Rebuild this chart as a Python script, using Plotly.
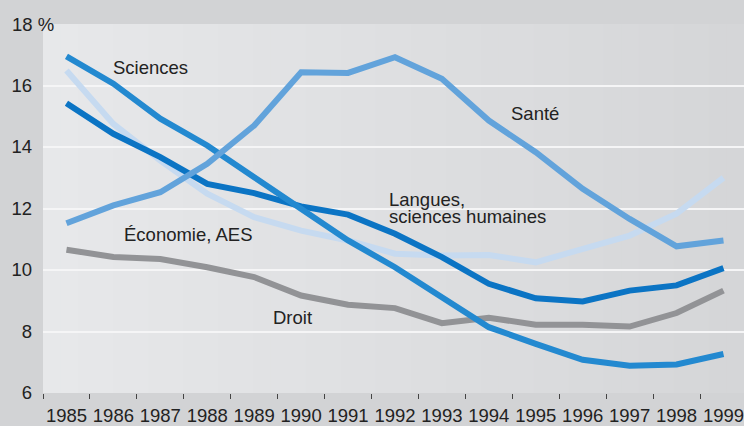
import plotly.graph_objects as go

years = list(range(1985, 2000))

economie = [16.49, 14.75, 13.56, 12.48, 11.72, 11.28, 10.96, 10.53, 10.47, 10.49, 10.25, 10.69, 11.12, 11.83, 13.0]
droit = [10.66, 10.42, 10.36, 10.09, 9.77, 9.17, 8.87, 8.76, 8.27, 8.45, 8.22, 8.22, 8.16, 8.6, 9.33]
langues = [15.42, 14.43, 13.67, 12.8, 12.5, 12.07, 11.8, 11.18, 10.42, 9.55, 9.08, 8.98, 9.33, 9.5, 10.06]
sciences = [16.95, 16.06, 14.92, 14.05, 13.02, 11.98, 10.96, 10.09, 9.12, 8.14, 7.6, 7.08, 6.89, 6.93, 7.27]
sante = [11.52, 12.1, 12.53, 13.45, 14.7, 16.43, 16.41, 16.92, 16.22, 14.86, 13.83, 12.64, 11.66, 10.77, 10.96]

series = [
    ("Économie, AES", economie, "#c6daf0"),
    ("Droit", droit, "#929396"),
    ("Langues, sciences humaines", langues, "#0b74c4"),
    ("Sciences", sciences, "#2389d0"),
    ("Santé", sante, "#62a3db"),
]

y_ticks = [6, 8, 10, 12, 14, 16]
grid_vals = [8, 10, 12, 14, 16]

FONT = "Liberation Sans, Arial, sans-serif"
TXT = "#222222"
FS = 18.5

fig = go.Figure()
for name, vals, col in series:
    fig.add_trace(go.Scatter(x=years, y=vals, mode="lines", name=name,
                             line=dict(color=col, width=6), hoverinfo="skip"))

# background gradient (decorative) as vertical strips in paper coords
n = 40
c0 = (0xe7, 0xe8, 0xea)
c1 = (0xd5, 0xd6, 0xd8)
shapes = []
for i in range(n):
    t = i / (n - 1)
    c = tuple(round(a + (b - a) * t) for a, b in zip(c0, c1))
    shapes.append(dict(type="rect", xref="paper", yref="paper",
                       x0=i / n, x1=(i + 1) / n + 0.002, y0=0, y1=1,
                       fillcolor="rgb(%d,%d,%d)" % c, line=dict(width=0),
                       layer="below"))

labels = [
    ("Sciences", 1985.96, 16.59),
    ("Économie, AES", 1986.215, 11.15),
    ("Droit", 1989.37, 8.47),
    ("Langues,", 1991.86, 12.30),
    ("sciences humaines", 1991.86, 11.73),
    ("Santé", 1994.46, 15.09),
]
annotations = []
for txt, x, y in labels:
    annotations.append(dict(text=txt, x=x, y=y, xref="x", yref="y", xanchor="left",
                            yanchor="middle", showarrow=False, align="left",
                            borderpad=0,
                            font=dict(family=FONT, size=FS, color=TXT)))
annotations.append(dict(text="18 %", x=-33 / 701, y=18, xref="paper", yref="y",
                        xanchor="left", yanchor="middle", showarrow=False,
                        font=dict(family=FONT, size=FS, color=TXT)))

fig.update_layout(
    width=744, height=426,
    margin=dict(l=43, r=0, t=24, b=33),
    paper_bgcolor="#d2d3d5",
    plot_bgcolor="#dfe0e2",
    showlegend=False,
    shapes=shapes,
    annotations=annotations,
    font=dict(family=FONT, size=FS, color=TXT),
)
fig.update_xaxes(
    range=[1984.5, 1984.5 + 701 / 46.93],
    tickmode="array", tickvals=years, ticktext=[str(y) for y in years],
    ticks="", showgrid=False, zeroline=False, showline=False,
    tickfont=dict(family=FONT, size=FS, color=TXT),
    minor=dict(tickmode="array", tickvals=[y - 0.5 for y in years],
               ticks="outside", ticklen=5, tickwidth=1, tickcolor="#444444",
               showgrid=False),
    ticklabelstandoff=9,
    ticklabeloverflow="allow",
    automargin=False,
)
fig.update_yaxes(
    range=[6, 18],
    tickmode="array", tickvals=y_ticks, ticktext=[str(v) for v in y_ticks],
    ticks="", showgrid=False, zeroline=False, showline=False,
    tickfont=dict(family=FONT, size=FS, color=TXT),
    minor=dict(tickmode="array", tickvals=grid_vals, showgrid=True,
               gridcolor="#f5f5f6", gridwidth=1.5, ticks=""),
    ticklabelstandoff=10,
    automargin=False,
)

fig.write_html("out.html")
